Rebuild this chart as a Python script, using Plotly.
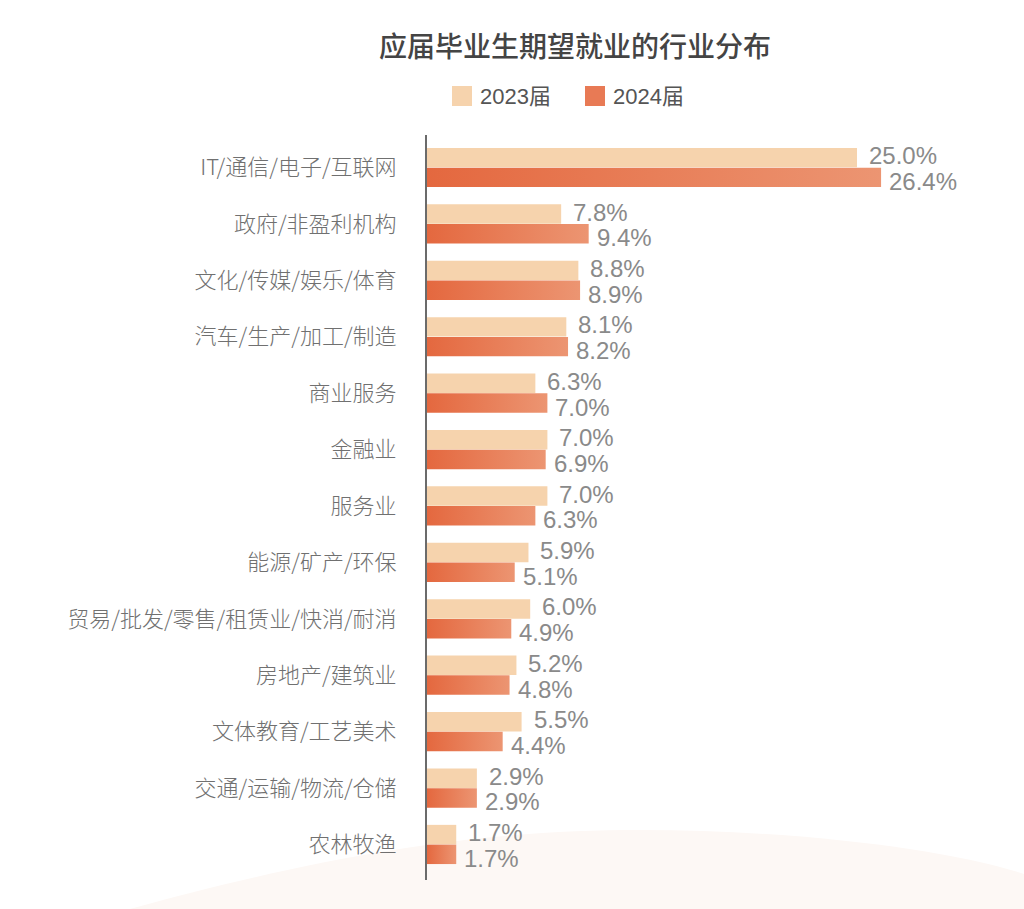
import plotly.graph_objects as go

categories = ["IT/通信/电子/互联网", "政府/非盈利机构", "文化/传媒/娱乐/体育", "汽车/生产/加工/制造",
              "商业服务", "金融业", "服务业", "能源/矿产/环保", "贸易/批发/零售/租赁业/快消/耐消",
              "房地产/建筑业", "文体教育/工艺美术", "交通/运输/物流/仓储", "农林牧渔"]
v2023 = [25.0, 7.8, 8.8, 8.1, 6.3, 7.0, 7.0, 5.9, 6.0, 5.2, 5.5, 2.9, 1.7]
v2024 = [26.4, 9.4, 8.9, 8.2, 7.0, 6.9, 6.3, 5.1, 4.9, 4.8, 4.4, 2.9, 1.7]
series_names = ["2023届", "2024届"]
title = "应届毕业生期望就业的行业分布"

W, H = 1024, 909
L, R, T, B = 427, 20, 135, 29
C23 = "#F6D3AD"
C24a, C24b = "#E4683F", "#EC9572"
FONT = "Liberation Sans, Noto Sans CJK SC, sans-serif"
bw = 0.345
off = 0.175

idx = list(range(len(categories)))
fig = go.Figure()

fig.add_trace(go.Bar(x=v2023, y=[i - off for i in idx], orientation="h", width=bw,
                     marker=dict(color=C23, line=dict(width=0)), showlegend=False,
                     hoverinfo="skip"))

for i, v in zip(idx, v2024):
    y0, y1 = i + off - bw / 2, i + off + bw / 2
    fig.add_trace(go.Scatter(x=[0, v, v, 0, 0], y=[y0, y0, y1, y1, y0], mode="lines",
                             fill="toself",
                             fillgradient=dict(type="horizontal",
                                               colorscale=[[0, C24a], [1, C24b]]),
                             line=dict(width=0, color="rgba(0,0,0,0)"),
                             showlegend=False, hoverinfo="skip"))

ann = []
for i, v in zip(idx, v2023):
    ann.append(dict(x=v, y=i - off, xref="x", yref="y", text=f"{v:.1f}%", showarrow=False,
                    xanchor="left", yanchor="middle", xshift=10, yshift=2,
                    font=dict(size=24, color="#8a8a8a", family=FONT, weight=300)))
for i, v in zip(idx, v2024):
    ann.append(dict(x=v, y=i + off, xref="x", yref="y", text=f"{v:.1f}%", showarrow=False,
                    xanchor="left", yanchor="middle", xshift=6, yshift=-4,
                    font=dict(size=24, color="#8a8a8a", family=FONT, weight=300)))

pw, ph = W - L - R, H - T - B
def px(x):
    return (x - L) / pw
def py(y):
    return (H - B - y) / ph

# manual legend
shapes = []
leg = [(452, C23, series_names[0]), (585, C24a, series_names[1])]
for x0, c, name in leg:
    shapes.append(dict(type="rect", xref="paper", yref="paper", x0=px(x0), x1=px(x0 + 20),
                       y0=py(106), y1=py(86), fillcolor=c, line=dict(width=0)))
    ann.append(dict(x=px(x0 + 26), y=py(96), xref="paper", yref="paper", text=name,
                    showarrow=False, xanchor="left", yanchor="middle",
                    font=dict(size=22, color="#555555", family=FONT)))
shapes[1]["fillcolor"] = "#E87A55"

# faint background arc
pts = [(130, 909), (350, 848), (500, 830), (640, 830), (800, 830), (950, 850), (1024, 874)]
path = (f"M {px(pts[0][0])},{py(pts[0][1])} "
        f"C {px(pts[1][0])},{py(pts[1][1])} {px(pts[2][0])},{py(pts[2][1])} {px(pts[3][0])},{py(pts[3][1])} "
        f"C {px(pts[4][0])},{py(pts[4][1])} {px(pts[5][0])},{py(pts[5][1])} {px(pts[6][0])},{py(pts[6][1])} "
        f"L {px(1024)},{py(909)} Z")
shapes.append(dict(type="path", path=path, xref="paper", yref="paper", layer="below",
                   fillcolor="#FDF8F5", line=dict(width=0)))

fig.update_layout(
    width=W, height=H,
    margin=dict(l=L, r=R, t=T, b=B),
    paper_bgcolor="white", plot_bgcolor="rgba(0,0,0,0)",
    barmode="overlay",
    title=dict(text=title, x=575 / W, xref="container", xanchor="center",
               y=1 - 47 / H, yref="container", yanchor="middle",
               font=dict(size=28, color="#444444", family="Noto Sans CJK SC", weight=500)),
    xaxis=dict(range=[0, pw / 17.2], visible=False, showgrid=False, zeroline=False),
    yaxis=dict(range=[12.63, -0.576], tickvals=idx, ticktext=categories, showgrid=False,
               zeroline=False, showline=True, linecolor="#6b6b6b", linewidth=2,
               ticks="", ticklabelstandoff=24,
               tickfont=dict(size=22, color="#707070", family="Noto Sans CJK SC", weight=300)),
    annotations=ann, shapes=shapes,
    showlegend=False,
)

fig.write_html("out.html")
